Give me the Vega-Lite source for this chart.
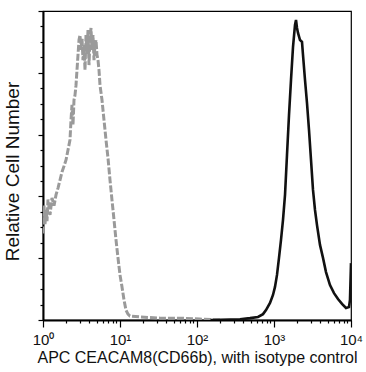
{
  "$schema": "https://vega.github.io/schema/vega-lite/v6.json",
  "width": 308,
  "height": 309,
  "autosize": "none",
  "padding": {"left": 43, "top": 11, "right": 15, "bottom": 52},
  "background": "white",
  "config": {
    "view": {"stroke": "black", "strokeWidth": 1.2},
    "font": "Liberation Sans"
  },
  "datasets": {
    "isotype": [
      {"intensity": 1.0, "count": 28},
      {"intensity": 1.03, "count": 37},
      {"intensity": 1.062, "count": 31},
      {"intensity": 1.094, "count": 36},
      {"intensity": 1.127, "count": 32},
      {"intensity": 1.161, "count": 39},
      {"intensity": 1.233, "count": 34},
      {"intensity": 1.309, "count": 39.5},
      {"intensity": 1.39, "count": 37},
      {"intensity": 1.475, "count": 40.5},
      {"intensity": 1.566, "count": 42.7},
      {"intensity": 1.663, "count": 45.3},
      {"intensity": 1.765, "count": 47.9},
      {"intensity": 1.874, "count": 49.8},
      {"intensity": 1.99, "count": 51.8},
      {"intensity": 2.112, "count": 55},
      {"intensity": 2.242, "count": 58.3},
      {"intensity": 2.31, "count": 64.7},
      {"intensity": 2.38, "count": 69.6},
      {"intensity": 2.453, "count": 63.1},
      {"intensity": 2.527, "count": 71.2},
      {"intensity": 2.604, "count": 72.8},
      {"intensity": 2.683, "count": 76},
      {"intensity": 2.764, "count": 80.9},
      {"intensity": 2.848, "count": 85.8},
      {"intensity": 2.934, "count": 90.6},
      {"intensity": 3.024, "count": 92.2},
      {"intensity": 3.115, "count": 87.4},
      {"intensity": 3.21, "count": 91.3},
      {"intensity": 3.307, "count": 84.1},
      {"intensity": 3.408, "count": 89},
      {"intensity": 3.511, "count": 80.9},
      {"intensity": 3.618, "count": 92.2},
      {"intensity": 3.728, "count": 85.8},
      {"intensity": 3.841, "count": 93.8},
      {"intensity": 3.957, "count": 82.5},
      {"intensity": 4.077, "count": 90.6},
      {"intensity": 4.201, "count": 94.5},
      {"intensity": 4.329, "count": 87.4},
      {"intensity": 4.46, "count": 92.2},
      {"intensity": 4.595, "count": 84.1},
      {"intensity": 4.735, "count": 89},
      {"intensity": 4.878, "count": 90.6},
      {"intensity": 5.026, "count": 85.8},
      {"intensity": 5.179, "count": 84.1},
      {"intensity": 5.336, "count": 80.9},
      {"intensity": 5.498, "count": 76},
      {"intensity": 5.837, "count": 71.2},
      {"intensity": 6.197, "count": 64.7},
      {"intensity": 6.579, "count": 58.3},
      {"intensity": 6.985, "count": 52.4},
      {"intensity": 7.416, "count": 45.3},
      {"intensity": 7.873, "count": 38.8},
      {"intensity": 8.358, "count": 32.4},
      {"intensity": 8.874, "count": 25.9},
      {"intensity": 9.419, "count": 20.1},
      {"intensity": 10.0, "count": 14.6},
      {"intensity": 10.62, "count": 10.7},
      {"intensity": 11.27, "count": 6.5},
      {"intensity": 11.96, "count": 3.2},
      {"intensity": 12.7, "count": 1.9},
      {"intensity": 13.48, "count": 1.3},
      {"intensity": 18.19, "count": 1.0},
      {"intensity": 33.07, "count": 0.6},
      {"intensity": 60.1, "count": 0.6},
      {"intensity": 109, "count": 0.3},
      {"intensity": 199, "count": 0}
    ],
    "cd66b": [
      {"intensity": 150, "count": 0},
      {"intensity": 361.7, "count": 0.2},
      {"intensity": 487.9, "count": 0.6},
      {"intensity": 619.7, "count": 1.0},
      {"intensity": 719.7, "count": 1.9},
      {"intensity": 787.3, "count": 3.2},
      {"intensity": 887.4, "count": 5.5},
      {"intensity": 970.5, "count": 8.1},
      {"intensity": 1030, "count": 10.7},
      {"intensity": 1094, "count": 14.6},
      {"intensity": 1161, "count": 20.1},
      {"intensity": 1233, "count": 25.9},
      {"intensity": 1309, "count": 32.4},
      {"intensity": 1390, "count": 40.5},
      {"intensity": 1475, "count": 53.4},
      {"intensity": 1566, "count": 66.3},
      {"intensity": 1663, "count": 77.7},
      {"intensity": 1765, "count": 88.3},
      {"intensity": 1874, "count": 95.5},
      {"intensity": 1931, "count": 97.1},
      {"intensity": 1990, "count": 94.5},
      {"intensity": 2050, "count": 92.9},
      {"intensity": 2177, "count": 90.6},
      {"intensity": 2310, "count": 90},
      {"intensity": 2380, "count": 85.8},
      {"intensity": 2527, "count": 77.7},
      {"intensity": 2683, "count": 70.2},
      {"intensity": 2848, "count": 61.5},
      {"intensity": 3024, "count": 51.8},
      {"intensity": 3210, "count": 42.1},
      {"intensity": 3408, "count": 35.6},
      {"intensity": 3618, "count": 30.7},
      {"intensity": 3957, "count": 24.3},
      {"intensity": 4329, "count": 20.1},
      {"intensity": 4735, "count": 15.5},
      {"intensity": 5336, "count": 11.3},
      {"intensity": 6015, "count": 8.7},
      {"intensity": 6780, "count": 6.8},
      {"intensity": 7641, "count": 5.2},
      {"intensity": 8612, "count": 3.9},
      {"intensity": 9419, "count": 4.2},
      {"intensity": 9700, "count": 6.5},
      {"intensity": 10000, "count": 18.4}
    ]
  },
  "encoding": {
    "x": {
      "field": "intensity",
      "type": "quantitative",
      "scale": {"type": "log", "domain": [1, 10000], "nice": false},
      "axis": {
        "title": "APC CEACAM8(CD66b), with isotype control",
        "titleFont": "Liberation Sans",
        "titleFontSize": 16,
        "titleFontWeight": "normal",
        "titleColor": "#111",
        "titlePadding": 2,
        "values": [1,2,3,4,5,6,7,8,9,10,20,30,40,50,60,70,80,90,100,200,300,400,500,600,700,800,900,1000,2000,3000,4000,5000,6000,7000,8000,9000,10000],
        "labelExpr": "indexof([1,10,100,1000,10000], datum.value) >= 0 ? '10' + ['⁰','¹','²','³','⁴'][round(log(datum.value)/LN10)] : ''",
        "labelFont": "Liberation Sans",
        "labelFontSize": 15,
        "labelColor": "#111",
        "labelPadding": 5,
        "labelOverlap": false,
        "labelFlush": false,
        "grid": false,
        "domainColor": "black",
        "domainWidth": 2,
        "tickColor": "black",
        "tickWidth": 1.2,
        "tickSize": {"condition": {"test": "indexof([1,10,100,1000,10000], datum.value) >= 0", "value": 7}, "value": 3}
      }
    },
    "y": {
      "field": "count",
      "type": "quantitative",
      "scale": {"domain": [0, 100], "nice": false},
      "axis": {
        "title": "Relative Cell Number",
        "titleFont": "Liberation Sans",
        "titleFontSize": 19,
        "titleFontWeight": "normal",
        "titleColor": "#111",
        "titlePadding": 15,
        "titleY": 160,
        "values": [0,5,10,15,20,25,30,35,40,45,50,55,60,65,70,75,80,85,90,95,100],
        "labels": false,
        "grid": false,
        "domainColor": "black",
        "domainWidth": 2,
        "tickColor": "black",
        "tickWidth": 1.2,
        "tickSize": {"condition": {"test": "datum.value % 20 === 0", "value": 5}, "value": 3}
      }
    }
  },
  "layer": [
    {
      "data": {"name": "isotype"},
      "mark": {"type": "line", "color": "#9a9a9a", "strokeWidth": 3, "strokeDash": [7, 2], "clip": true}
    },
    {
      "data": {"name": "cd66b"},
      "mark": {"type": "line", "color": "#111111", "strokeWidth": 2.6, "clip": true}
    }
  ]
}
